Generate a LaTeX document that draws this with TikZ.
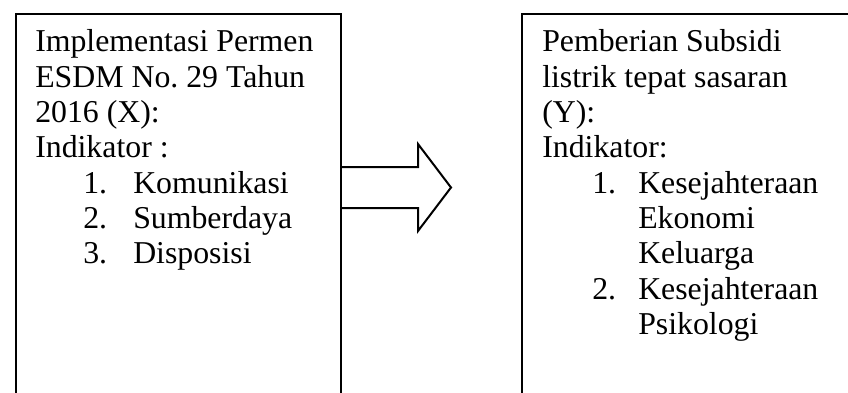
\documentclass[tikz,border=0pt]{standalone}
\usepackage{fontspec}
\setmainfont{Liberation Serif}
\frenchspacing
\begin{document}
\begin{tikzpicture}[x=0.75pt,y=-0.75pt,
  frame/.style={draw=black,line width=1.5pt,fill=none,inner sep=0pt,anchor=north west},
  txt/.style={inner sep=0pt,anchor=base west,text=black,font=\fontsize{23.85pt}{26.5pt}\selectfont},
  blockarrow/.style={draw=black,line width=1.5pt,line join=miter}]
\useasboundingbox (0,0) rectangle (848,392);
\clip (0,0) rectangle (848,392);

% the two boxes (they run on past the lower and right page edges)
\node[frame,minimum width=325*0.75pt,minimum height=420*0.75pt] (leftbox) at (15,13) {};
\node[frame,minimum width=360*0.75pt,minimum height=420*0.75pt] (rightbox) at (521,13) {};

% left box text
\node[txt] (l0) at (35,52) {Implementasi Permen};
\node[txt] (l1) at (35,87.3) {ESDM No.\ 29 Tahun};
\node[txt] (l2) at (35,122.6) {2016 (X):};
\node[txt] (l3) at (35,157.9) {Indikator :};
\node[txt] (n1) at (83,193.2) {1.};
\node[txt] (l4) at (133,193.2) {Komunikasi};
\node[txt] (n2) at (83,228.5) {2.};
\node[txt] (l5) at (133,228.5) {Sumberdaya};
\node[txt] (n3) at (83,263.8) {3.};
\node[txt] (l6) at (133,263.8) {Disposisi};

% right box text
\node[txt] (r0) at (542,52) {Pemberian Subsidi};
\node[txt] (r1) at (542,87.3) {listrik tepat sasaran};
\node[txt] (r2) at (542,122.6) {(Y):};
\node[txt] (r3) at (542,157.9) {Indikator:};
\node[txt] (m1) at (592,193.2) {1.};
\node[txt] (r4) at (638,193.2) {Kesejahteraan};
\node[txt] (r5) at (638,228.5) {Ekonomi};
\node[txt] (r6) at (638,263.8) {Keluarga};
\node[txt] (m2) at (592,299.1) {2.};
\node[txt] (r7) at (638,299.1) {Kesejahteraan};
\node[txt] (r8) at (638,334.4) {Psikologi};

% block arrow from the left box towards the right box
\coordinate (a0) at (340,167);
\coordinate (a1) at (418,167);
\coordinate (a2) at (418,144);
\coordinate (tip) at (451,187.5);
\coordinate (a3) at (418,231);
\coordinate (a4) at (418,208);
\coordinate (a5) at (340,208);
\draw[blockarrow] (a0) -- (a1) -- (a2) -- (tip) -- (a3) -- (a4) -- (a5);
\end{tikzpicture}
\end{document}
